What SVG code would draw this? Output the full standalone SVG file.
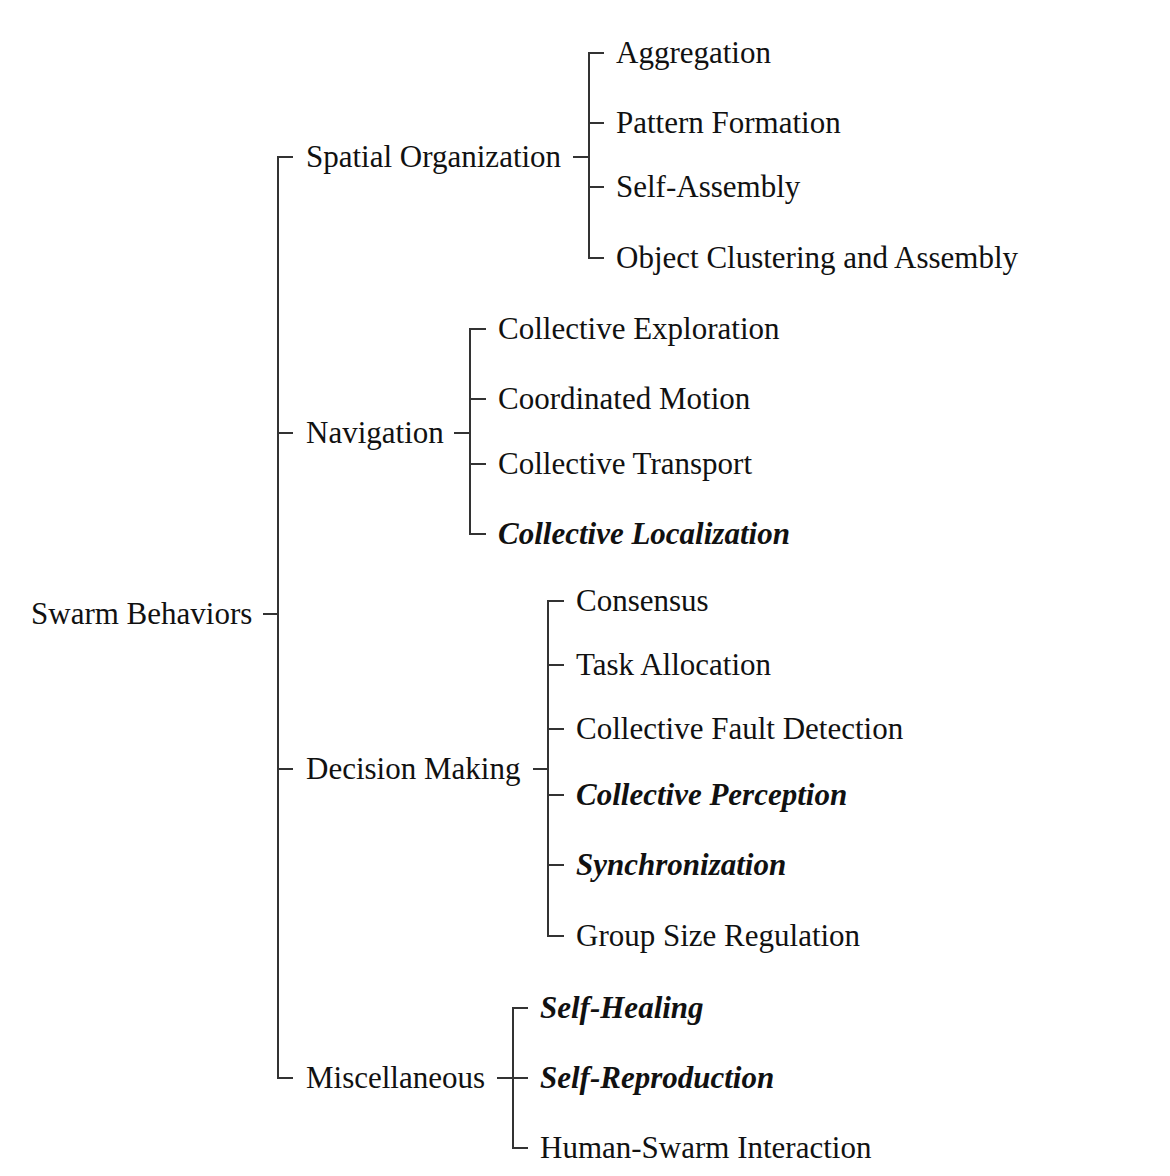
<svg xmlns="http://www.w3.org/2000/svg" width="1170" height="1176" viewBox="0 0 1170 1176">
<style>
text{font-family:"Liberation Serif","Times New Roman",serif;font-size:31px;fill:#111}
.bi{font-weight:bold;font-style:italic}
.c{stroke:#333;stroke-width:2;fill:none}
</style>
<rect width="1170" height="1176" fill="#fff"/>
<g id="connectors">
<path class="c" d="M263 614H278M293 157H278V1078H293M278 433H293M278 769H293"/>
<path class="c" d="M573 157H589M604 53H589V258H604M589 123H604M589 187H604"/>
<path class="c" d="M454 433H470M486 329H470V534H486M470 399H486M470 464H486"/>
<path class="c" d="M533 769H548M564 601H548V936H564M548 665H564M548 729H564M548 795H564M548 865H564"/>
<path class="c" d="M497 1078H528M528 1008H513V1148H528"/>
</g>
<g id="root"><text x="31" y="624">Swarm Behaviors</text></g>
<g id="spatial"><text x="306" y="167">Spatial Organization</text></g>
<g id="navigation"><text x="306" y="443">Navigation</text></g>
<g id="decision"><text x="306" y="779">Decision Making</text></g>
<g id="misc"><text x="306" y="1088">Miscellaneous</text></g>
<g id="aggregation"><text x="616" y="63">Aggregation</text></g>
<g id="pattern"><text x="616" y="133">Pattern Formation</text></g>
<g id="selfassembly"><text x="616" y="197">Self-Assembly</text></g>
<g id="objcluster"><text x="616" y="268">Object Clustering and Assembly</text></g>
<g id="exploration"><text x="498" y="339">Collective Exploration</text></g>
<g id="coordmotion"><text x="498" y="409">Coordinated Motion</text></g>
<g id="transport"><text x="498" y="474">Collective Transport</text></g>
<g id="localization"><text class="bi" x="498" y="544">Collective Localization</text></g>
<g id="consensus"><text x="576" y="611">Consensus</text></g>
<g id="taskalloc"><text x="576" y="675">Task Allocation</text></g>
<g id="faultdet"><text x="576" y="739">Collective Fault Detection</text></g>
<g id="perception"><text class="bi" x="576" y="805">Collective Perception</text></g>
<g id="sync"><text class="bi" x="576" y="875">Synchronization</text></g>
<g id="groupsize"><text x="576" y="946">Group Size Regulation</text></g>
<g id="healing"><text class="bi" x="540" y="1018">Self-Healing</text></g>
<g id="reproduction"><text class="bi" x="540" y="1088">Self-Reproduction</text></g>
<g id="hsi"><text x="540" y="1158">Human-Swarm Interaction</text></g>
</svg>
